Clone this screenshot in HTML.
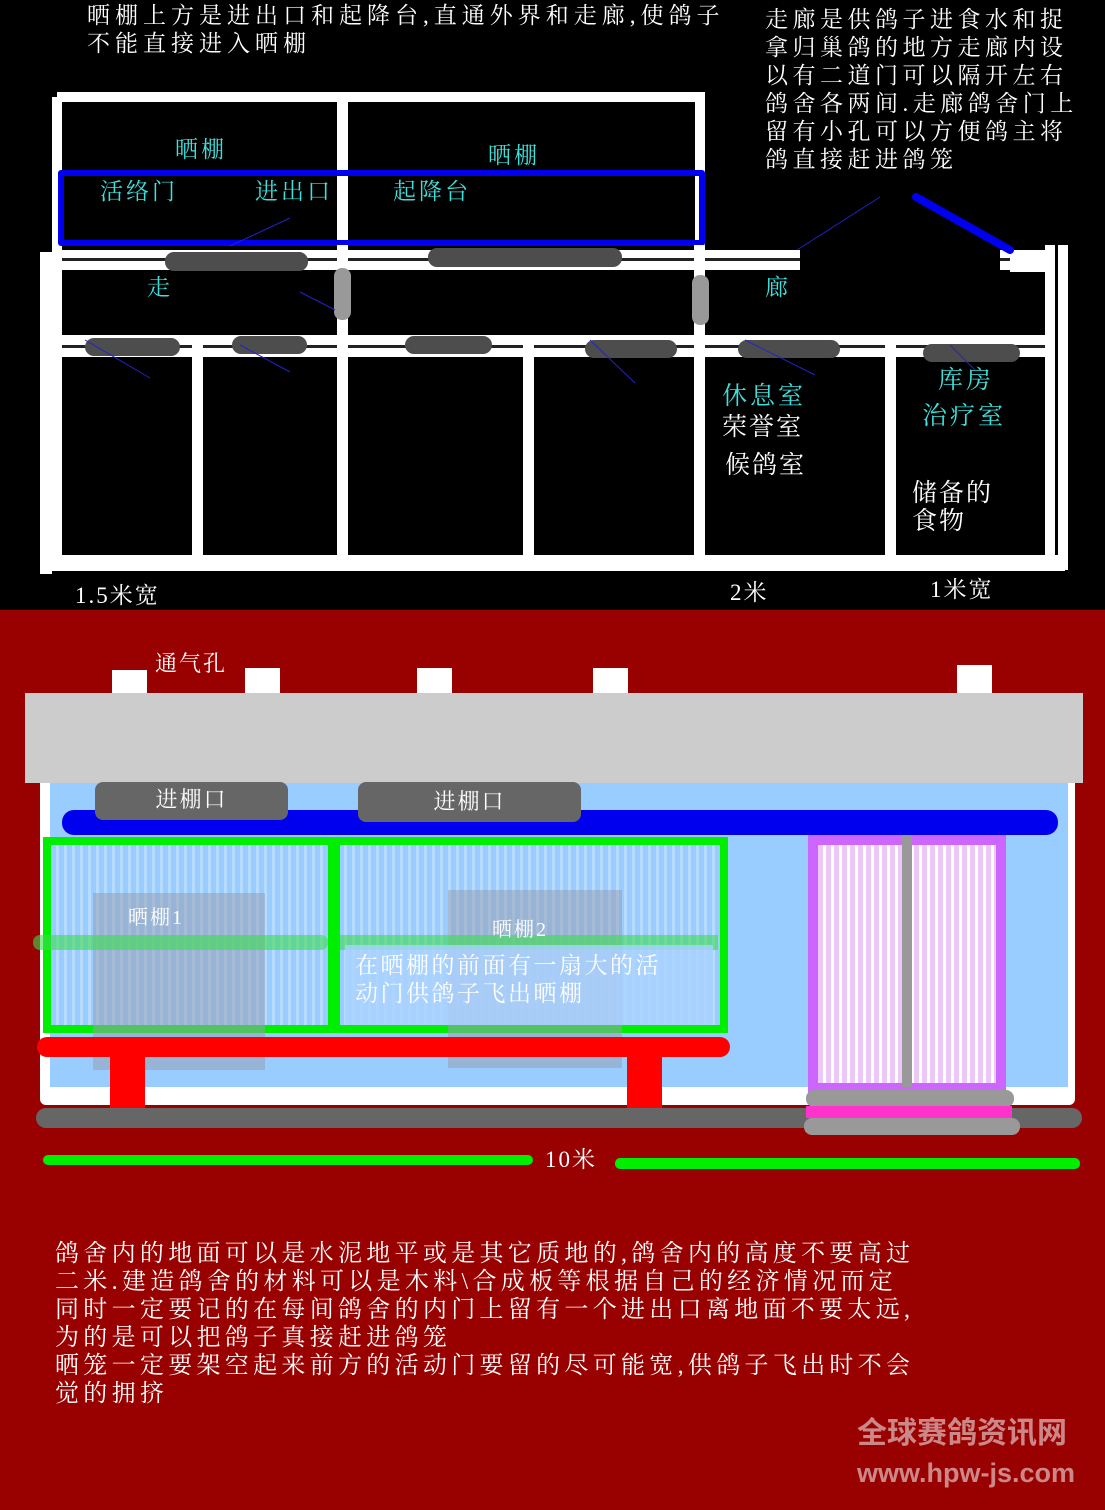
<!DOCTYPE html>
<html><head><meta charset="utf-8"><style>
*{margin:0;padding:0;box-sizing:border-box}
body{width:1105px;height:1510px;position:relative;overflow:hidden;background:#000;font-family:"Liberation Serif","Noto Serif CJK SC",serif}
div{position:absolute}
.w{background:#fff}
.g{background:#4d4d4d;border-radius:9px}
.lg{background:#999;border-radius:8px}
.t{color:#fff;font-size:23px;white-space:nowrap;line-height:28px;letter-spacing:2px}
.c{color:#3ee0dc;font-size:23px;white-space:nowrap;letter-spacing:3px;line-height:28px}
</style></head><body>
<div style="left:0;top:0;width:1105px;height:610px;background:#000"></div>
<div class="t" style="left:87px;top:2px;letter-spacing:5px">晒棚上方是进出口和起降台,直通外界和走廊,使鸽子<br>不能直接进入晒棚</div>
<div class="t" style="left:765px;top:6px;letter-spacing:4.5px">走廊是供鸽子进食水和捉<br>拿归巢鸽的地方走廊内设<br>以有二道门可以隔开左右<br>鸽舍各两间.走廊鸽舍门上<br>留有小孔可以方便鸽主将<br>鸽直接赶进鸽笼</div>
<div class="w" style="left:57px;top:92px;width:648px;height:10px"></div>
<div class="w" style="left:52px;top:97px;width:10px;height:155px"></div>
<div class="w" style="left:337px;top:95px;width:11px;height:150px"></div>
<div class="w" style="left:695px;top:95px;width:10px;height:150px"></div>
<div style="left:58px;top:170px;width:647px;height:76px;border:6px solid #0000ee;border-radius:3px"></div>
<div class="w" style="left:60px;top:250px;width:985px;height:20px"></div>
<div style="left:60px;top:258px;width:985px;height:3px;background:#222"></div>
<div style="left:800px;top:245px;width:200px;height:30px;background:#000"></div>
<div class="w" style="left:1010px;top:258px;width:35px;height:14px"></div>
<div class="w" style="left:40px;top:252px;width:12px;height:322px"></div>
<div class="w" style="left:52px;top:252px;width:10px;height:310px"></div>
<div class="w" style="left:1045px;top:245px;width:10px;height:325px"></div>
<div class="w" style="left:1058px;top:245px;width:10px;height:325px"></div>
<div class="w" style="left:62px;top:335px;width:983px;height:22px"></div>
<div style="left:62px;top:345px;width:983px;height:3px;background:#222"></div>
<div class="w" style="left:40px;top:555px;width:1025px;height:16px"></div>
<div class="w" style="left:192px;top:345px;width:11px;height:212px"></div>
<div class="w" style="left:337px;top:245px;width:11px;height:312px"></div>
<div class="w" style="left:523px;top:345px;width:11px;height:212px"></div>
<div class="w" style="left:694px;top:245px;width:11px;height:312px"></div>
<div class="w" style="left:885px;top:345px;width:11px;height:212px"></div>
<div class="g" style="left:165px;top:252px;width:143px;height:19px"></div>
<div class="g" style="left:428px;top:248px;width:194px;height:19px"></div>
<div class="lg" style="left:334px;top:268px;width:17px;height:52px"></div>
<div class="lg" style="left:692px;top:275px;width:17px;height:50px"></div>
<div class="g" style="left:85px;top:338px;width:95px;height:18px"></div>
<div class="g" style="left:232px;top:336px;width:75px;height:18px"></div>
<div class="g" style="left:405px;top:336px;width:87px;height:18px"></div>
<div class="g" style="left:585px;top:340px;width:92px;height:18px"></div>
<div class="g" style="left:738px;top:340px;width:102px;height:18px"></div>
<div class="g" style="left:923px;top:344px;width:97px;height:18px"></div>
<svg style="position:absolute;left:0;top:0" width="1105" height="610">
<line x1="916" y1="197" x2="1010" y2="250" stroke="#0000ee" stroke-width="8" stroke-linecap="round"/>
<g stroke="#2222cc" stroke-width="1">
<line x1="880" y1="197" x2="797" y2="250"/><line x1="290" y1="218" x2="230" y2="246"/>
<line x1="300" y1="292" x2="335" y2="310"/><line x1="85" y1="340" x2="150" y2="378"/>
<line x1="240" y1="345" x2="290" y2="372"/><line x1="590" y1="340" x2="635" y2="383"/>
<line x1="745" y1="340" x2="815" y2="375"/><line x1="950" y1="345" x2="975" y2="370"/></g>
</svg>
<div class="c" style="left:175px;top:136px">晒棚</div>
<div class="c" style="left:488px;top:142px">晒棚</div>
<div class="c" style="left:100px;top:178px">活络门</div>
<div class="c" style="left:255px;top:178px">进出口</div>
<div class="c" style="left:393px;top:178px">起降台</div>
<div class="c" style="left:147px;top:274px">走</div>
<div class="c" style="left:765px;top:274px">廊</div>
<div class="c" style="left:722px;top:383px;font-size:25px">休息室</div>
<div class="t" style="left:722px;top:414px;font-size:25px">荣誉室</div>
<div class="t" style="left:725px;top:452px;font-size:25px">候鸽室</div>
<div class="c" style="left:938px;top:367px;font-size:25px">库房</div>
<div class="c" style="left:922px;top:403px;font-size:25px">治疗室</div>
<div class="t" style="left:912px;top:480px;font-size:25px;line-height:28px">储备的<br>食物</div>
<div class="t" style="left:75px;top:582px">1.5米宽</div>
<div class="t" style="left:730px;top:579px">2米</div>
<div class="t" style="left:930px;top:576px">1米宽</div>
<div style="left:0;top:610px;width:1105px;height:900px;background:#990000"></div>
<div class="t" style="left:155px;top:650px;font-size:22px">通气孔</div>
<div class="w" style="left:112px;top:670px;width:35px;height:35px;border-radius:0 0 12px 12px"></div>
<div class="w" style="left:245px;top:668px;width:35px;height:35px"></div>
<div class="w" style="left:417px;top:668px;width:35px;height:35px"></div>
<div class="w" style="left:593px;top:668px;width:35px;height:35px"></div>
<div class="w" style="left:957px;top:665px;width:35px;height:35px"></div>
<div style="left:25px;top:693px;width:1058px;height:90px;background:#cccccc"></div>
<div class="w" style="left:40px;top:783px;width:1035px;height:322px;border-radius:0 0 6px 6px"></div>
<div style="left:50px;top:783px;width:1018px;height:304px;background:#99ccff"></div>
<div style="left:62px;top:810px;width:996px;height:25px;background:#0000ee;border-radius:12px"></div>
<div style="left:95px;top:782px;width:193px;height:38px;background:#666;border-radius:8px;color:#fff;font-size:22px;text-align:center;line-height:36px;letter-spacing:2px">进棚口</div>
<div style="left:358px;top:782px;width:223px;height:40px;background:#666;border-radius:8px;color:#fff;font-size:22px;text-align:center;line-height:40px;letter-spacing:2px">进棚口</div>
<div style="left:43px;top:837px;width:685px;height:196px;border:8px solid #00ee00;background:repeating-linear-gradient(90deg,#99ccff 0 5px,#b8dcff 5px 8px)"></div>
<div style="left:328px;top:840px;width:12px;height:190px;background:#00ee00"></div>
<div style="left:93px;top:893px;width:172px;height:177px;background:rgba(150,160,180,0.55)"></div>
<div style="left:448px;top:890px;width:174px;height:178px;background:rgba(150,160,180,0.55)"></div>
<div style="left:33px;top:935px;width:295px;height:15px;background:rgba(60,220,80,0.6);border-radius:7px"></div>
<div style="left:340px;top:935px;width:378px;height:15px;background:rgba(60,220,80,0.6)"></div>
<div class="t" style="left:128px;top:904px;font-size:20px">晒棚1</div>
<div class="t" style="left:492px;top:916px;font-size:20px">晒棚2</div>
<div style="left:345px;top:945px;width:368px;height:80px;background:rgba(170,210,255,0.8)"></div>
<div class="t" style="left:355px;top:952px;font-size:23px;letter-spacing:2.5px">在晒棚的前面有一扇大的活<br>动门供鸽子飞出晒棚</div>
<div style="left:37px;top:1037px;width:693px;height:20px;background:#ff0000;border-radius:10px"></div>
<div style="left:110px;top:1055px;width:35px;height:70px;background:#ff0000"></div>
<div style="left:627px;top:1055px;width:35px;height:55px;background:#ff0000"></div>
<div style="left:36px;top:1108px;width:1046px;height:20px;background:#666;border-radius:10px"></div>
<div style="left:808px;top:835px;width:198px;height:258px;border:10px solid #cc66ff;background:repeating-linear-gradient(90deg,#ecc8f8 0 5px,#fff 5px 8px)"></div>
<div style="left:902px;top:835px;width:10px;height:252px;background:#999"></div>
<div style="left:806px;top:1090px;width:208px;height:17px;background:#999;border-radius:8px"></div>
<div style="left:806px;top:1106px;width:206px;height:12px;background:#ff33cc"></div>
<div style="left:804px;top:1118px;width:216px;height:17px;background:#999;border-radius:8px"></div>
<div style="left:43px;top:1155px;width:490px;height:10px;background:#00ee00;border-radius:5px"></div>
<div style="left:615px;top:1158px;width:465px;height:11px;background:#00ee00;border-radius:5px"></div>
<div class="t" style="left:545px;top:1146px">10米</div>
<div class="t" style="left:55px;top:1240px;font-size:24px;letter-spacing:4.3px">鸽舍内的地面可以是水泥地平或是其它质地的,鸽舍内的高度不要高过<br>二米.建造鸽舍的材料可以是木料\合成板等根据自己的经济情况而定<br>同时一定要记的在每间鸽舍的内门上留有一个进出口离地面不要太远,<br>为的是可以把鸽子真接赶进鸽笼<br>晒笼一定要架空起来前方的活动门要留的尽可能宽,供鸽子飞出时不会<br>觉的拥挤</div>
<div style="left:857px;top:1408px;color:#cc8888;font-family:'Liberation Sans','Noto Sans CJK SC',sans-serif;font-weight:bold;font-size:30px;white-space:nowrap">全球赛鸽资讯网</div>
<div style="left:857px;top:1458px;color:#cc8888;font-family:'Liberation Sans',sans-serif;font-weight:bold;font-size:27px;white-space:nowrap">www.hpw-js.com</div>
</body></html>
